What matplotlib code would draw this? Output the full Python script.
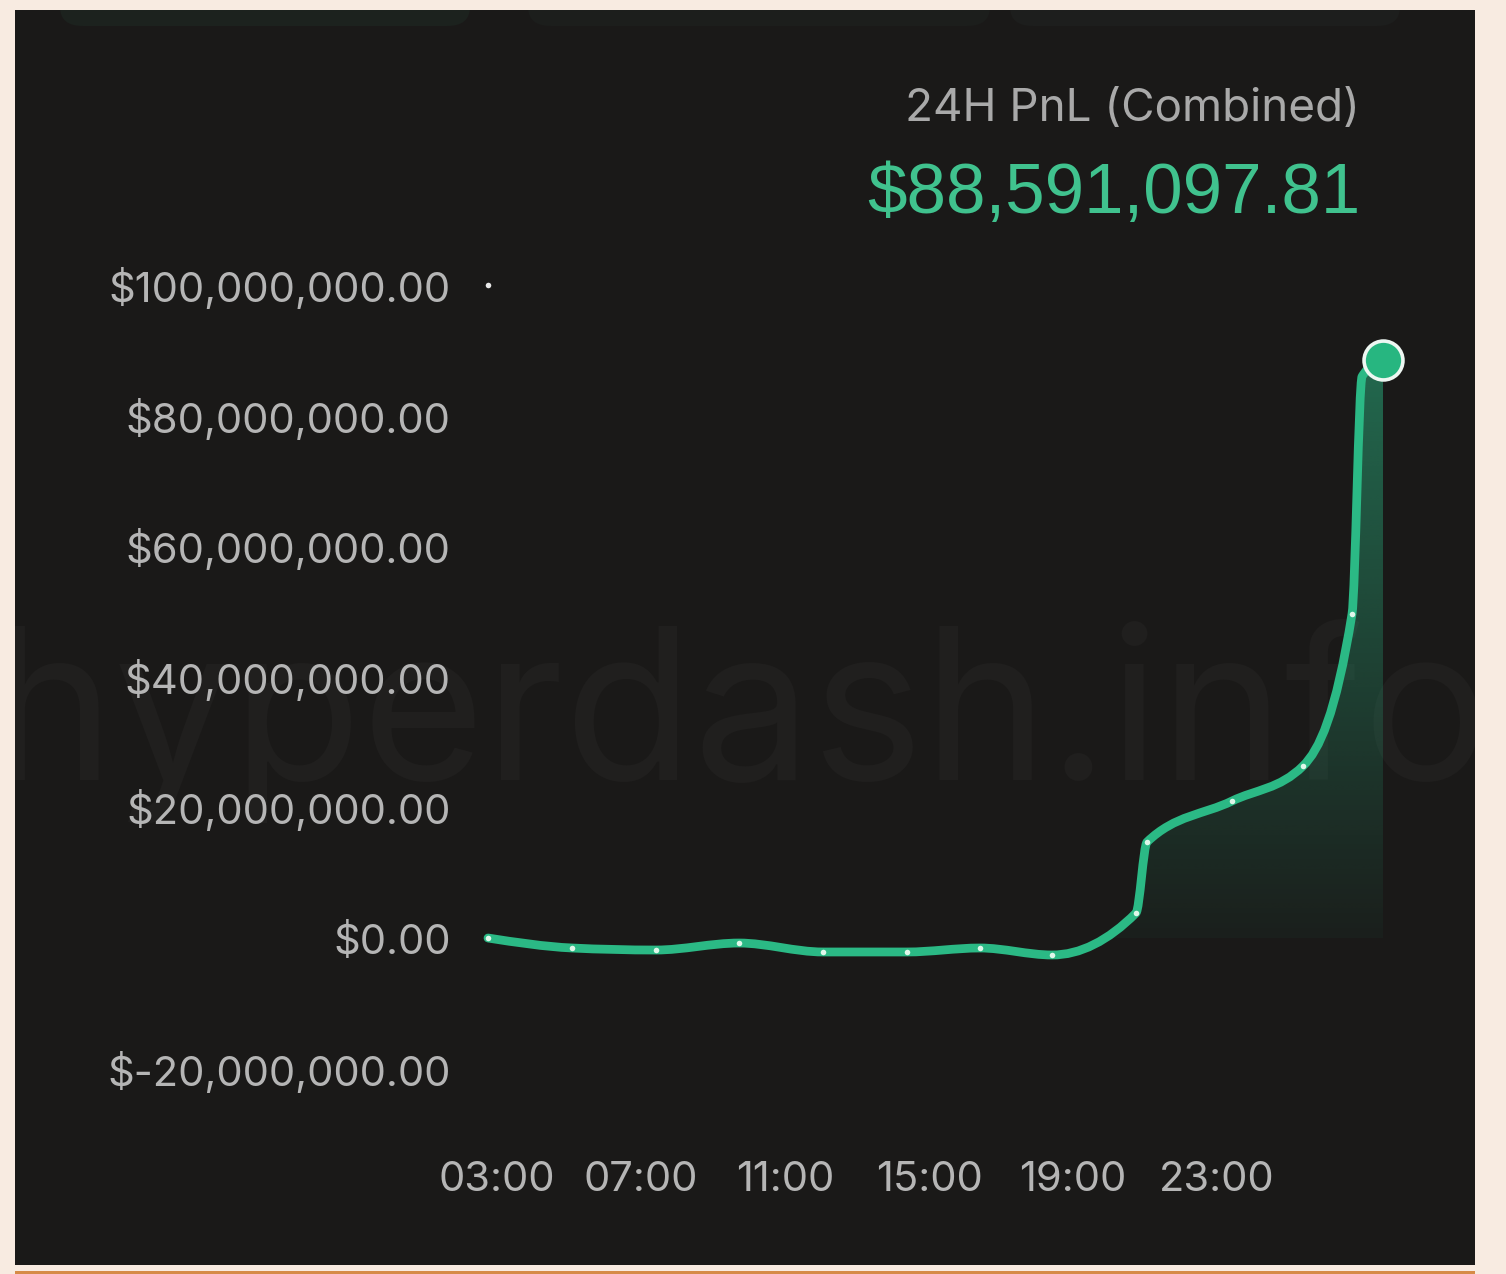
import numpy as np
import matplotlib
matplotlib.use("Agg")
import matplotlib.pyplot as plt
from matplotlib.path import Path
from matplotlib.patches import PathPatch, Rectangle, FancyBboxPatch
from matplotlib.ticker import FuncFormatter, FixedLocator

# ---------------- data ----------------
hours = [2.75, 5.083, 7.417, 9.722, 12.056, 14.389, 16.417, 18.417,
         20.75, 21.056, 23.417, 25.389, 26.75, 27.03, 27.611]
pnl = [0.0, -1.53e6, -1.84e6, -0.77e6, -2.14e6, -2.14e6, -1.53e6, -2.60e6,
       3.83e6, 14.70e6, 20.98e6, 26.34e6, 49.62e6, 86.0e6, 88591097.81]
x_ticks = [3, 7, 11, 15, 19, 23]
x_tick_labels = ["03:00", "07:00", "11:00", "15:00", "19:00", "23:00"]
y_ticks = [-20e6, 0, 20e6, 40e6, 60e6, 80e6, 100e6]
title_text = "24H PnL (Combined)"
total_text = "$88,591,097.81"
watermark = "hyperdash.info"

# ---------------- style ----------------
W, H = 1506, 1274
BG_OUT = "#f8ebe1"
PANEL = "#1a1918"
GREEN = "#2bb985"
GRAY = "#b5b5b5"
LABEL_FONT = ["Inter", "DejaVu Sans"]

fig = plt.figure(figsize=(W / 100, H / 100), dpi=100, facecolor=BG_OUT)

def fx(px):
    return px / W

def fy(py):
    return 1 - py / H

# dark panel
panel = Rectangle((fx(15), fy(1265)), fx(1460), (1265 - 10) / H,
                  transform=fig.transFigure, facecolor=PANEL, edgecolor="none",
                  zorder=-5)
fig.add_artist(panel)
# orange strip at the bottom
fig.add_artist(Rectangle((fx(15), 0), fx(1460), 3 / H, transform=fig.transFigure,
                         facecolor="#d68b47", edgecolor="none", zorder=-5))

# faint cut-off buttons at the top of the panel
for (x0, x1, col) in [(60, 470, "#1c221e"), (528, 990, "#1c1e1c"), (1010, 1400, "#1d1e1d")]:
    b = FancyBboxPatch((fx(x0), fy(26)), fx(x1 - x0), 40 / H,
                       boxstyle="round,pad=0,rounding_size=0.015",
                       transform=fig.transFigure, facecolor=col, edgecolor="none",
                       zorder=-4)
    fig.add_artist(b)
    b.set_clip_path(panel)

# watermark
wm = fig.text(fx(740), fy(780), watermark, fontsize=152, family=LABEL_FONT,
              color="#201f1e", ha="center", va="baseline", zorder=-3)
wm.set_clip_path(panel)

# ---------------- axes ----------------
ax_l, ax_r, ax_t, ax_b = 470, 1410, 260, 1100
ax = fig.add_axes([fx(ax_l), fy(ax_b), fx(ax_r - ax_l), (ax_b - ax_t) / H])
ax.set_facecolor("none")
for s in ax.spines.values():
    s.set_visible(False)

ax.xaxis.set_major_locator(FixedLocator(x_ticks))
ax.set_xticklabels(x_tick_labels)
ax.yaxis.set_major_locator(FixedLocator(y_ticks))
ax.yaxis.set_major_formatter(FuncFormatter(lambda v, p: f"${v:,.2f}"))
ax.tick_params(axis="both", length=0, colors=GRAY, labelsize=30)
ax.tick_params(axis="y", pad=14)
ax.tick_params(axis="x", pad=44)
for lab in ax.get_xticklabels() + ax.get_yticklabels():
    lab.set_family(LABEL_FONT)
    lab.set_color(GRAY)


# ---------------- monotone curve (d3 curveMonotoneX style) ----------------
def monotone_path(x, y):
    x = np.asarray(x, float)
    y = np.asarray(y, float)
    n = len(x)
    dx = np.diff(x)
    m = np.diff(y) / dx
    t = np.zeros(n)
    for i in range(1, n - 1):
        s0, s1 = m[i - 1], m[i]
        if s0 * s1 <= 0:
            t[i] = 0.0
        else:
            p = (s0 * dx[i] + s1 * dx[i - 1]) / (dx[i - 1] + dx[i])
            t[i] = (np.sign(s0) + np.sign(s1)) * min(abs(s0), abs(s1), 0.5 * abs(p))
    t[0] = (3 * m[0] - t[1]) / 2
    t[-1] = (3 * m[-1] - t[-2]) / 2
    verts = [(x[0], y[0])]
    codes = [Path.MOVETO]
    for i in range(n - 1):
        h = dx[i] / 3
        verts += [(x[i] + h, y[i] + h * t[i]),
                  (x[i + 1] - h, y[i + 1] - h * t[i + 1]),
                  (x[i + 1], y[i + 1])]
        codes += [Path.CURVE4] * 3
    return verts, codes


verts, codes = monotone_path(hours, pnl)
line_path = Path(verts, codes)

# gradient fill under the curve
fill_verts = verts + [(hours[-1], 0.0), (hours[0], 0.0), (hours[0], pnl[0])]
fill_codes = codes + [Path.LINETO, Path.LINETO, Path.CLOSEPOLY]
fill_patch = PathPatch(Path(fill_verts, fill_codes), facecolor="none",
                       edgecolor="none", transform=ax.transData)
ax.add_patch(fill_patch)
grad = np.zeros((256, 2, 4))
rgb = matplotlib.colors.to_rgb(GREEN)
grad[..., 0] = rgb[0]
grad[..., 1] = rgb[1]
grad[..., 2] = rgb[2]
grad[..., 3] = np.linspace(0.04, 0.5, 256)[:, None]
im = ax.imshow(grad, extent=[hours[0], hours[-1], 0, max(pnl)], origin="lower",
               aspect="auto", interpolation="bilinear", zorder=1)
im.set_clip_path(fill_patch)
ax.set_xlim(2.25, 28.361)
ax.set_ylim(-24.808e6, 103.83e6)

# line
ax.add_patch(PathPatch(line_path, facecolor="none", edgecolor=GREEN, lw=6.3,
                       capstyle="round", joinstyle="round", zorder=3))
# small white dots on data points (the one right under the end marker is hidden there)
ax.plot(hours[:-2], pnl[:-2], linestyle="none", marker="o", markersize=4,
        markerfacecolor="#dff7ea", markeredgewidth=0, zorder=4)
# last point big marker
ax.plot(hours[-1:], pnl[-1:], linestyle="none", marker="o", markersize=28,
        markerfacecolor="#27b680", markeredgecolor="#eef7f2", markeredgewidth=2.6,
        zorder=5, clip_on=False)
# stray dot next to the top label
ax.plot([hours[0]], [100e6], linestyle="none", marker="o", markersize=4,
        markerfacecolor="#e8e8e8", markeredgewidth=0, zorder=4)

# ---------------- header ----------------
fig.text(fx(1360), fy(121), title_text, fontsize=33, family=LABEL_FONT,
         color="#a9a9a9", ha="right", va="baseline")
fig.text(fx(1360), fy(213), total_text, fontsize=51,
         family=["Liberation Sans", "DejaVu Sans"],
         color="#40c28e", ha="right", va="baseline")

fig.savefig("out.png", dpi=100, facecolor=BG_OUT)
